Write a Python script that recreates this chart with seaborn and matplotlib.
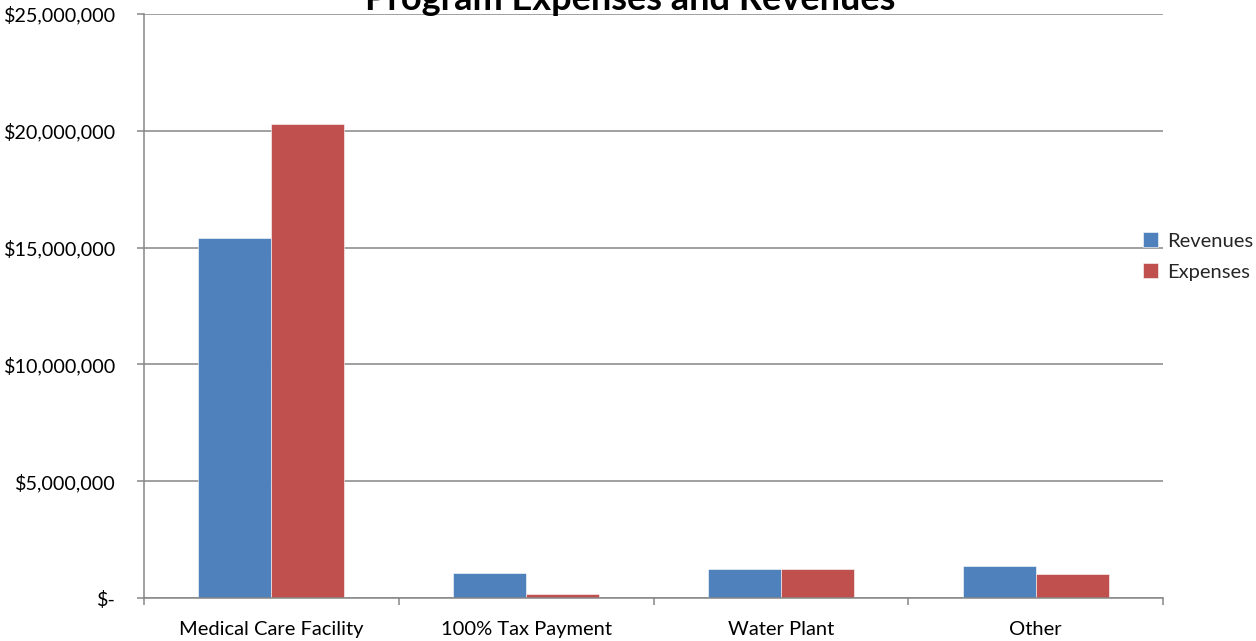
import matplotlib
matplotlib.use("Agg")
import matplotlib.pyplot as plt
from matplotlib.ticker import FuncFormatter, FixedLocator
import seaborn as sns
import pandas as pd

categories = ["Medical Care Facility", "100% Tax Payment", "Water Plant", "Other"]
revenues = [15420000, 1060000, 1260000, 1370000]
expenses = [20310000, 160000, 1260000, 1020000]
series = ["Revenues", "Expenses"]
colors = ["#4F81BD", "#C0504D"]

df = pd.DataFrame({
    "Program": categories * 2,
    "Amount": revenues + expenses,
    "Series": [series[0]] * len(categories) + [series[1]] * len(categories),
})

sns.set_theme(style="white")
plt.rcParams["font.family"] = ["Lato", "DejaVu Sans"]

W, H = 1256, 641
fig = plt.figure(figsize=(W / 100, H / 100), dpi=100)
ax = fig.add_axes([144 / W, 43 / H, 1019 / W, 584 / H])

sns.barplot(data=df, x="Program", y="Amount", hue="Series", order=categories,
            hue_order=series, palette=colors, width=0.573, gap=0,
            saturation=1, ax=ax, legend=True)
for p in ax.patches:
    p.set_edgecolor("#ffffff")
    p.set_linewidth(0.4)

ax.set_xlim(-0.5, len(categories) - 0.5)
ax.set_ylim(0, 25000000)
ax.set_yticks(range(0, 25000001, 5000000))

def money(v, pos):
    if v == 0:
        return "$-"
    return "${:,.0f}".format(v)

ax.yaxis.set_major_formatter(FuncFormatter(money))
ax.yaxis.grid(True, color="#868686", linewidth=1.1)
ax.set_axisbelow(True)

for side in ["top", "right"]:
    ax.spines[side].set_visible(False)
for side in ["left", "bottom"]:
    ax.spines[side].set_color("#868686")
    ax.spines[side].set_linewidth(1.1)

ax.set_xlabel("")
ax.set_ylabel("")
ax.tick_params(axis="x", which="major", length=0, pad=16.5, labelsize=14.5, colors="#000000")
ax.xaxis.set_minor_locator(FixedLocator([i - 0.5 for i in range(len(categories) + 1)]))
ax.tick_params(axis="x", which="minor", bottom=True, length=5, width=1.1, color="#868686")
ax.tick_params(axis="y", left=True, length=5, width=1.1, color="#868686",
               pad=15, labelsize=14.2, labelcolor="#000000")

leg = ax.legend(loc="center left", bbox_to_anchor=(1143 / W, 1 - 256.5 / H),
                bbox_transform=fig.transFigure, frameon=False,
                fontsize=14.5, handlelength=0.75, handleheight=0.75,
                handletextpad=0.45, labelspacing=0.68, borderpad=0, borderaxespad=0)

fig.text(630 / W, 1 - 10 / H, "Program Expenses and Revenues", ha="center",
         va="baseline", fontsize=26, fontweight="bold", color="#000000")

fig.savefig("out.png", dpi=100)
